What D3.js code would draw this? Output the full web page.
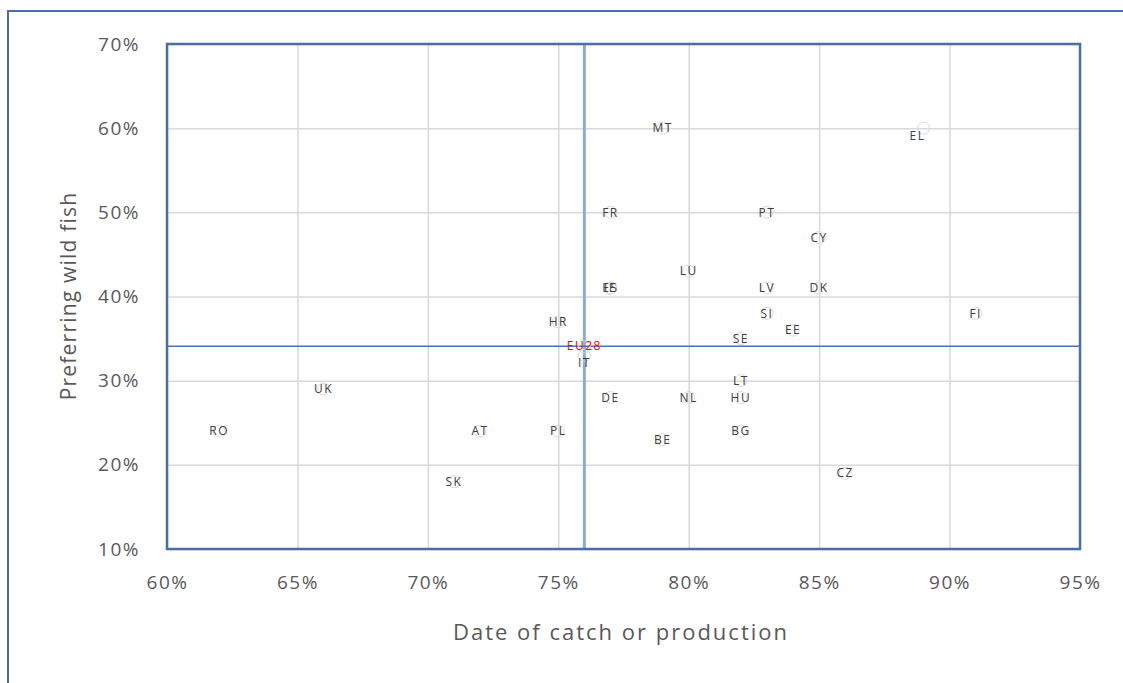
<!DOCTYPE html>
<html>
<head>
<meta charset="utf-8">
<script src="https://cdn.jsdelivr.net/npm/d3@7"></script>
<style>
  body { margin: 0; background: #fff; }
  text { font-family: "Open Sans", "DejaVu Sans", sans-serif; }
</style>
</head>
<body>
<div id="chart"></div>
<script>
// country codes, x = date of catch or production, y = preferring wild fish
var countries = ['MT', 'EL', 'FR', 'PT', 'CY', 'LU', 'ES', 'IE', 'LV', 'DK', 'FI', 'SI', 'EE', 'SE', 'HR',
  'EU28', 'IT', 'UK', 'RO', 'AT', 'PL', 'SK', 'DE', 'NL', 'HU', 'LT', 'BG', 'BE', 'CZ'];
var dateOfCatch = [0.79, 0.89, 0.77, 0.83, 0.85, 0.80, 0.77, 0.77, 0.83, 0.85, 0.91, 0.83, 0.84, 0.82, 0.75,
  0.76, 0.76, 0.66, 0.62, 0.72, 0.75, 0.71, 0.77, 0.80, 0.82, 0.82, 0.82, 0.79, 0.86];
var wildFish = [0.60, 0.60, 0.50, 0.50, 0.47, 0.43, 0.41, 0.41, 0.41, 0.41, 0.38, 0.38, 0.36, 0.35, 0.37,
  0.34, 0.33, 0.29, 0.24, 0.24, 0.24, 0.18, 0.28, 0.28, 0.28, 0.30, 0.24, 0.23, 0.19];
var xTicks = [0.60, 0.65, 0.70, 0.75, 0.80, 0.85, 0.90, 0.95];
var yTicks = [0.10, 0.20, 0.30, 0.40, 0.50, 0.60, 0.70];
var euAverage = { x: 0.76, y: 0.341 };

var data = countries.map(function(c, i) {
  return { code: c, x: dateOfCatch[i], y: wildFish[i] };
});

var width = 1123, height = 683;
var margin = { top: 44, right: 43, bottom: 134, left: 167 };
var w = width - margin.left - margin.right;
var h = height - margin.top - margin.bottom;

var svg = d3.select('#chart').append('svg')
  .attr('width', width)
  .attr('height', height);

// outer chart border (top + left only visible)
svg.append('path')
  .attr('d', 'M8,' + height + ' V11 H' + width)
  .attr('fill', 'none')
  .attr('stroke', '#4a6fa5')
  .attr('stroke-width', 2);

var g = svg.append('g')
  .attr('transform', 'translate(' + margin.left + ',' + margin.top + ')');

var xScale = d3.scaleLinear().domain([0.60, 0.95]).range([0, w]);
var yScale = d3.scaleLinear().domain([0.10, 0.70]).range([h, 0]);

// grid
g.append('g')
  .call(d3.axisBottom(xScale).tickValues(xTicks).tickSize(h).tickFormat(''))
  .call(function(s) { s.select('.domain').remove(); })
  .selectAll('line')
  .attr('stroke', '#d9d9d9')
  .attr('stroke-width', 1.5);
g.append('g')
  .call(d3.axisLeft(yScale).tickValues(yTicks).tickSize(-w).tickFormat(''))
  .call(function(s) { s.select('.domain').remove(); })
  .selectAll('line')
  .attr('stroke', '#d9d9d9')
  .attr('stroke-width', 1.5);

// tick labels
var pct = d3.format('.0%');
var xAxis = g.append('g')
  .attr('transform', 'translate(0,' + h + ')')
  .call(d3.axisBottom(xScale).tickValues(xTicks).tickSize(0).tickPadding(27).tickFormat(pct));
xAxis.select('.domain').remove();
xAxis.selectAll('text')
  .attr('fill', '#595959')
  .attr('font-size', '19px')
  .style('letter-spacing', '1.5px');

var yAxis = g.append('g')
  .call(d3.axisLeft(yScale).tickValues(yTicks).tickSize(0).tickPadding(27).tickFormat(pct));
yAxis.select('.domain').remove();
yAxis.selectAll('text')
  .attr('fill', '#595959')
  .attr('font-size', '19px')
  .style('letter-spacing', '1.5px');

// axis titles
svg.append('text')
  .attr('x', 621)
  .attr('y', 640)
  .attr('text-anchor', 'middle')
  .attr('fill', '#595959')
  .attr('font-size', '22px')
  .style('letter-spacing', '2px')
  .text('Date of catch or production');
svg.append('text')
  .attr('transform', 'translate(76,296) rotate(-90)')
  .attr('text-anchor', 'middle')
  .attr('fill', '#595959')
  .attr('font-size', '21px')
  .style('letter-spacing', '1.2px')
  .text('Preferring wild fish');

// EU average lines
g.append('line')
  .attr('x1', xScale(euAverage.x)).attr('x2', xScale(euAverage.x))
  .attr('y1', 0).attr('y2', h)
  .attr('stroke', '#8eaadb')
  .attr('stroke-width', 3);
g.append('line')
  .attr('x1', 0).attr('x2', w)
  .attr('y1', yScale(euAverage.y)).attr('y2', yScale(euAverage.y))
  .attr('stroke', '#4472c4')
  .attr('stroke-width', 1.5);

// points
g.selectAll('circle')
  .data(data)
  .enter()
  .append('circle')
  .attr('cx', d => xScale(d.x))
  .attr('cy', d => yScale(d.y))
  .attr('r', 6)
  .attr('fill', 'none')
  .attr('stroke', '#d9d9d9')
  .attr('stroke-width', 1);

// labels (small nudges where the original labels sit off-centre)
var labelShift = { EL: [-6, 8], EU28: [0, -1], IT: [0, 7] };
g.selectAll('.label')
  .data(data)
  .enter()
  .append('text')
  .attr('class', 'label')
  .attr('x', d => xScale(d.x) + (labelShift[d.code] ? labelShift[d.code][0] : 0))
  .attr('y', d => yScale(d.y) + (labelShift[d.code] ? labelShift[d.code][1] : 0))
  .attr('dy', '0.35em')
  .attr('text-anchor', 'middle')
  .attr('font-size', '12px')
  .style('letter-spacing', '1.5px')
  .attr('fill', d => d.code === 'EU28' ? '#ff0000' : '#404040')
  .text(d => d.code);

// plot frame
g.append('rect')
  .attr('width', w)
  .attr('height', h)
  .attr('fill', 'none')
  .attr('stroke', '#4a6fa5')
  .attr('stroke-width', 2.5);
</script>
</body>
</html>
